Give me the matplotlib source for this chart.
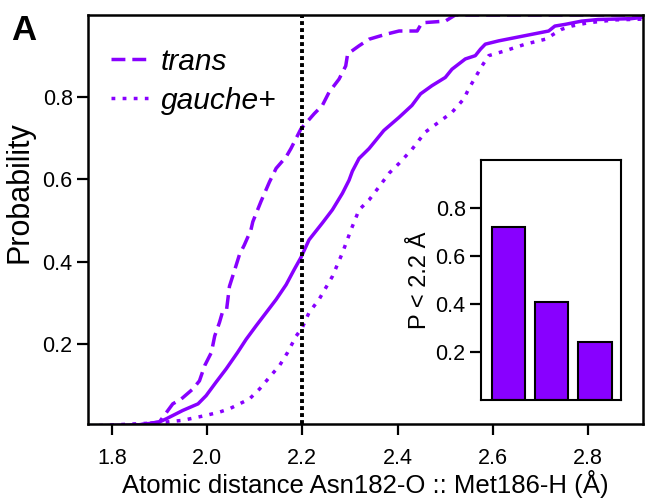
import matplotlib.pyplot as plt

plt.rcParams['font.family'] = ['Liberation Sans', 'DejaVu Sans']

purple = '#8800ff'

# cumulative distributions
trans_x = [1.75, 1.85, 1.90, 1.928, 1.946, 1.970, 1.984, 1.995, 2.009, 2.016, 2.026, 2.033, 2.041,
           2.047, 2.058, 2.068, 2.078, 2.092, 2.096, 2.113, 2.131, 2.145, 2.166, 2.176, 2.197, 2.225,
           2.242, 2.256, 2.277, 2.291, 2.295, 2.319, 2.34, 2.375, 2.403, 2.441, 2.451, 2.5, 2.521, 2.92]
trans_y = [0.0, 0.002, 0.01, 0.054, 0.066, 0.09, 0.11, 0.147, 0.179, 0.219, 0.252, 0.28, 0.284,
           0.34, 0.38, 0.417, 0.44, 0.477, 0.497, 0.546, 0.594, 0.627, 0.655, 0.675, 0.723, 0.76,
           0.78, 0.812, 0.844, 0.876, 0.905, 0.925, 0.941, 0.953, 0.961, 0.961, 0.981, 0.985, 1.0, 1.0]

all_x = [1.75, 1.86, 1.90, 1.915, 1.949, 1.981, 1.998, 2.019, 2.04, 2.064, 2.082, 2.103, 2.124,
         2.145, 2.166, 2.183, 2.197, 2.214, 2.242, 2.263, 2.284, 2.298, 2.305, 2.319, 2.34, 2.371,
         2.403, 2.43, 2.448, 2.472, 2.5, 2.514, 2.542, 2.563, 2.574, 2.584, 2.612, 2.647, 2.682,
         2.717, 2.73, 2.751, 2.786, 2.821, 2.89, 2.92]
all_y = [0.0, 0.003, 0.01, 0.018, 0.038, 0.054, 0.074, 0.107, 0.139, 0.179, 0.211, 0.244, 0.276,
         0.308, 0.344, 0.381, 0.41, 0.453, 0.494, 0.526, 0.566, 0.598, 0.62, 0.651, 0.675, 0.719,
         0.751, 0.78, 0.808, 0.828, 0.848, 0.868, 0.893, 0.901, 0.917, 0.929, 0.937, 0.945, 0.953,
         0.961, 0.973, 0.977, 0.985, 0.989, 0.991, 0.995]

gauche_x = [1.75, 1.90, 1.949, 1.998, 2.026, 2.047, 2.068, 2.089, 2.11, 2.134, 2.152, 2.169, 2.187,
            2.2, 2.214, 2.235, 2.263, 2.284, 2.302, 2.319, 2.34, 2.361, 2.382, 2.403, 2.43, 2.458,
            2.486, 2.514, 2.539, 2.549, 2.563, 2.577, 2.591, 2.626, 2.668, 2.71, 2.727, 2.744,
            2.765, 2.8, 2.856, 2.92]
gauche_y = [0.0, 0.008, 0.014, 0.026, 0.034, 0.042, 0.054, 0.066, 0.09, 0.123, 0.147, 0.179, 0.219,
            0.24, 0.276, 0.308, 0.364, 0.421, 0.477, 0.526, 0.55, 0.582, 0.615, 0.639, 0.673, 0.715,
            0.739, 0.763, 0.796, 0.82, 0.848, 0.876, 0.901, 0.913, 0.929, 0.941, 0.953, 0.965,
            0.973, 0.981, 0.988, 0.99]

cutoff = 2.2

# inset: P(d < 2.2 A)
bar_groups = ['trans', 'all', 'gauche+']
bar_values = [0.72, 0.41, 0.24]

fig = plt.figure(figsize=(6.45, 4.99), dpi=100)
ax = fig.add_axes([0.1364, 0.1503, 0.8605, 0.8197])

ax.plot(trans_x, trans_y, color=purple, lw=2.5, dashes=(4.0, 2.0), label='trans')
ax.plot(gauche_x, gauche_y, color=purple, lw=2.5, dashes=(1.1, 2.1), label='gauche+')
ax.plot(all_x, all_y, color=purple, lw=2.5)
ax.axvline(cutoff, color='black', lw=2.8, dashes=(1.0, 0.8))

ax.set_xlim(1.75, 2.915)
ax.set_ylim(0.005, 1.0)
ax.set_xticks([1.8, 2.0, 2.2, 2.4, 2.6, 2.8])
ax.set_yticks([0.2, 0.4, 0.6, 0.8])
ax.tick_params(labelsize=15.5, length=8, width=1.6, color='black')
ax.tick_params(axis='x', pad=9)
ax.tick_params(axis='y', pad=3)
for s in ax.spines.values():
    s.set_linewidth(1.8)
ax.set_xlabel('Atomic distance Asn182-O :: Met186-H (Å)', fontsize=18.5, labelpad=1)
ax.set_ylabel('Probability', fontsize=22)
ax.yaxis.set_label_coords(-0.097, 0.567)

leg = ax.legend(loc='upper left', bbox_to_anchor=(0.041, 0.92), frameon=False,
                prop={'size': 21.5, 'style': 'italic'}, handlelength=1.25, handletextpad=0.43,
                labelspacing=0.37, borderaxespad=0, borderpad=0)

fig.text(0.018, 0.92, 'A', fontsize=25, fontweight='bold')

ins = fig.add_axes([0.7457, 0.1984, 0.2171, 0.4810])
ins.bar(range(len(bar_values)), bar_values, width=0.77, color=purple, edgecolor='black', lw=1.5)
ins.set_xlim(-0.63, 2.6)
ins.set_ylim(0, 1.0)
ins.set_xticks([])
ins.set_yticks([0.2, 0.4, 0.6, 0.8])
ins.tick_params(labelsize=15.5, length=8, width=1.6, pad=3)
for s in ins.spines.values():
    s.set_linewidth(1.5)
ins.set_ylabel('P < 2.2 Å', fontsize=17, labelpad=3)

fig.savefig('out.png', dpi=100)
